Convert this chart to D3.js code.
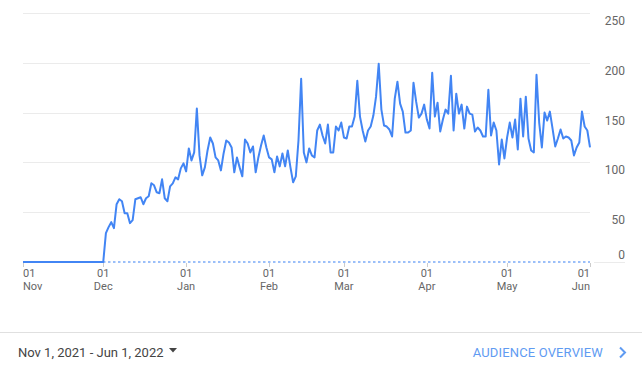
<!DOCTYPE html>
<html>
<head>
<meta charset="utf-8">
<script src="https://cdn.jsdelivr.net/npm/d3@7"></script>
<style>
  body { margin: 0; background: #fff; }
  svg { display: block; font-family: Roboto, "Noto Sans", sans-serif; }
  .grid line { stroke: #ebebeb; stroke-width: 1; }
  .yLabel { fill: #666; font-size: 12px; }
  .xLabel { fill: #666; font-size: 11px; }
</style>
</head>
<body>
<div id="chart"></div>
<script>

/// daily users, one array per month (Nov 1 2021 -> Jun 1 2022)

const firstDay = "2021-11-01";

const nov = [0,0,0,0,0,0,0,0,0,0,0,0,0,0,0,0,0,0,0,0,0,0,0,0,0,0,0,0,0,0];
const dec = [0,29,35,40,34,58,63,61,49,49,39,42,63,64,65,58,64,66,79,77,70,69,83,64,61,76,79,85,83,94,99];
const jan = [91,114,102,110,154,107,87,95,112,125,119,105,102,92,109,122,120,115,90,105,95,86,123,119,110,116,90,105,117,127,115];
const feb = [105,103,90,106,96,109,96,112,95,80,86,122,184,110,100,114,107,105,132,138,127,119,138,110,110,136,132,140];
const mar = [125,124,136,136,146,182,146,132,121,132,136,147,166,199,153,137,136,133,126,164,181,159,151,130,130,132,180,161,145,149,158];
const apr = [143,134,190,146,160,131,143,153,149,187,132,169,149,158,134,156,149,148,131,135,132,126,126,173,127,140,132,98,123,104];
const may = [125,140,125,143,113,164,126,166,124,112,110,188,140,115,150,142,151,134,116,124,133,124,126,125,122,107,115,120,151,136,132];
const jun = [115];

const yTicks = [0, 50, 100, 150, 200, 250];

const dateRangeLabel = "Nov 1, 2021 - Jun 1, 2022";
const linkLabel = "AUDIENCE OVERVIEW";

///////////////////////////////////////////////////////////////////////////////

const width = 642;
const height = 367;

const margin = { top: 13, right: 52, bottom: 105, left: 23 };

const values = [].concat(nov, dec, jan, feb, mar, apr, may, jun);
const parse = d3.timeParse("%Y-%m-%d");
const start = parse(firstDay);
const data = values.map((v, i) => ({ date: d3.timeDay.offset(start, i), value: v }));
const end = data[data.length - 1].date;

const svg = d3.select("#chart").append("svg")
  .attr("width", width)
  .attr("height", height);

const x = d3.scaleTime()
  .domain([start, end])
  .range([margin.left, width - margin.right]);

const y = d3.scaleLinear()
  .domain([0, 250])
  .range([height - margin.bottom, margin.top]);

// gridlines (zero line is drawn dashed further down)
svg.append("g")
  .attr("class", "grid")
  .selectAll("line")
  .data(yTicks.filter(d => d > 0))
  .enter()
  .append("line")
  .attr("x1", x.range()[0])
  .attr("x2", x.range()[1])
  .attr("y1", d => Math.round(y(d)) + 0.5)
  .attr("y2", d => Math.round(y(d)) + 0.5);

// grey stub under the "0" label
svg.append("line")
  .attr("x1", x.range()[1] + 4)
  .attr("x2", width - 17)
  .attr("y1", Math.round(y(0)) + 0.5)
  .attr("y2", Math.round(y(0)) + 0.5)
  .style("stroke", "#ebebeb");

// y labels on the right, below their line except 0
svg.selectAll("text.yLabel")
  .data(yTicks)
  .enter()
  .append("text")
  .attr("class", "yLabel")
  .attr("x", width - 17)
  .attr("y", d => d == 0 ? y(d) - 3 : y(d) + 12)
  .style("text-anchor", "end")
  .text(d => d);

// dashed baseline
svg.append("line")
  .attr("x1", x.range()[0])
  .attr("x2", x.range()[1])
  .attr("y1", y(0))
  .attr("y2", y(0))
  .style("stroke", "#7baaf7")
  .style("stroke-width", 1.5)
  .style("stroke-dasharray", "2.5,2.5");

// month ticks
const months = d3.timeMonth.range(start, d3.timeDay.offset(end, 1));

svg.selectAll("line.tick")
  .data(months)
  .enter()
  .append("line")
  .attr("class", "tick")
  .attr("x1", d => Math.round(x(d)) + 0.5)
  .attr("x2", d => Math.round(x(d)) + 0.5)
  .attr("y1", y(0) + 1)
  .attr("y2", y(0) + 5)
  .style("stroke", "#ccc");

// first label hugs the left edge, last one the right edge
const anchor = (d, i) => i == 0 ? "start" : (i == months.length - 1 ? "end" : "middle");

svg.selectAll("text.dayLabel")
  .data(months)
  .enter()
  .append("text")
  .attr("class", "xLabel dayLabel")
  .style("text-anchor", anchor)
  .attr("x", d => x(d))
  .attr("y", y(0) + 15)
  .text(d3.timeFormat("%d"));

svg.selectAll("text.monthLabel")
  .data(months)
  .enter()
  .append("text")
  .attr("class", "xLabel monthLabel")
  .style("text-anchor", anchor)
  .attr("x", d => x(d))
  .attr("y", y(0) + 28)
  .text(d3.timeFormat("%b"));

// the line
const line = d3.line()
  .x(d => x(d.date))
  .y(d => y(d.value));

svg.append("path")
  .datum(data)
  .attr("d", line)
  .style("fill", "none")
  .style("stroke", "#4285f4")
  .style("stroke-width", 2)
  .style("stroke-linejoin", "round");

///////////////// footer

svg.append("line")
  .attr("x1", 0)
  .attr("x2", width)
  .attr("y1", 332.5)
  .attr("y2", 332.5)
  .style("stroke", "#e0e0e0");

svg.append("text")
  .attr("x", 18)
  .attr("y", 357)
  .style("font-size", "13px")
  .style("fill", "#444")
  .text(dateRangeLabel);

// dropdown triangle
svg.append("path")
  .attr("d", "M169,348 L177,348 L173,352.5 Z")
  .style("fill", "#444");

svg.append("text")
  .attr("x", 603)
  .attr("y", 357)
  .style("text-anchor", "end")
  .style("font-size", "13px")
  .style("letter-spacing", "0.15px")
  .style("fill", "#5f9bf2")
  .text(linkLabel);

// chevron
svg.append("path")
  .attr("d", "M620,347.5 L625,352.5 L620,357.5")
  .style("fill", "none")
  .style("stroke", "#5f9bf2")
  .style("stroke-width", 2);

</script>
</body>
</html>
